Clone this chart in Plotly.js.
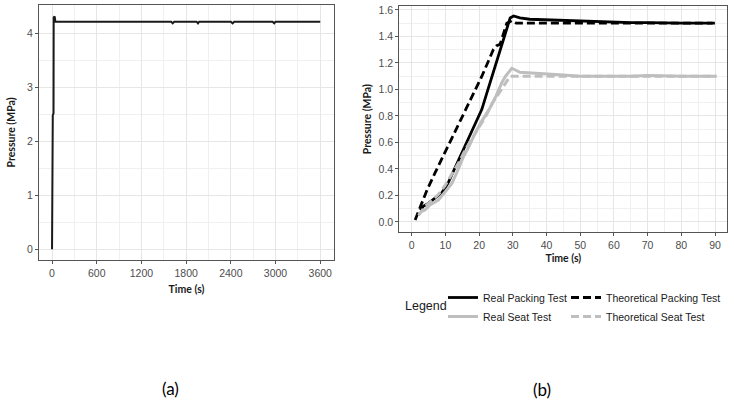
<!DOCTYPE html>
<html><head><meta charset="utf-8">
<script src="https://cdn.plot.ly/plotly-3.0.1.min.js"></script>
<style>html,body{margin:0;padding:0;background:#fff}#chart{width:734px;height:404px}</style>
</head><body><div id="chart"></div>
<script>
// Panel (a): long-duration pressure test
const longTime = [0, 1, 9, 10, 20, 22, 35, 45, 400, 800, 1200, 1600, 1619, 1640, 1940, 1959, 1975, 2400, 2424, 2445, 2960, 2983, 3000, 3300, 3600];
const longPressure = [0, 0.75, 0.78, 2.48, 2.52, 4.30, 4.32, 4.22, 4.22, 4.22, 4.22, 4.22, 4.19, 4.22, 4.22, 4.19, 4.22, 4.22, 4.19, 4.22, 4.22, 4.19, 4.22, 4.22, 4.22];

// Panel (b): 90 s tests
const realPackT = [2.5, 3.5, 4.9, 6.5, 8.9, 10, 10.9, 12.5, 14.3, 16, 17.8, 19.3, 20.8, 22, 23.2, 24.5, 25.7, 26.7, 27.7, 28.5, 29.2, 30.2, 32.1, 35, 40, 45, 50, 55, 60, 65, 70, 75, 80, 85, 89.3];
const realPackP = [0.09, 0.12, 0.14, 0.17, 0.22, 0.26, 0.30, 0.39, 0.49, 0.58, 0.69, 0.77, 0.85, 0.95, 1.05, 1.15, 1.25, 1.33, 1.42, 1.48, 1.54, 1.555, 1.54, 1.53, 1.525, 1.52, 1.515, 1.51, 1.51, 1.505, 1.505, 1.50, 1.50, 1.50, 1.50];

const theoPackT = [1, 2, 3, 4.5, 6.9, 9, 10.9, 13, 15.8, 18, 20.8, 22.5, 24.2, 25.2, 26.2, 27.2, 28.2, 29.7, 31, 35, 40, 50, 60, 70, 80, 90];
const theoPackP = [0.015, 0.08, 0.14, 0.24, 0.37, 0.48, 0.57, 0.69, 0.83, 0.95, 1.10, 1.20, 1.30, 1.33, 1.34, 1.42, 1.50, 1.52, 1.50, 1.50, 1.50, 1.50, 1.50, 1.505, 1.50, 1.50];

const realSeatT = [3, 3.9, 5.5, 7.9, 10, 11.9, 13.5, 15.3, 17, 18.8, 20.5, 22.7, 23.2, 25, 26.7, 27.8, 28.7, 29.7, 32.1, 36, 40, 45, 50, 55, 60, 65, 70, 75, 80, 85, 90.3];
const realSeatP = [0.08, 0.09, 0.13, 0.166, 0.23, 0.29, 0.38, 0.49, 0.57, 0.67, 0.75, 0.845, 0.86, 0.95, 1.05, 1.10, 1.13, 1.16, 1.13, 1.125, 1.12, 1.11, 1.10, 1.10, 1.095, 1.10, 1.105, 1.10, 1.10, 1.10, 1.10];

const theoSeatT = [2, 4, 6, 8, 10, 12, 14, 16, 18, 20, 22, 24, 26, 28, 29.2, 31, 35, 40, 50, 60, 70, 80, 90.5];
const theoSeatP = [0.05, 0.12, 0.16, 0.21, 0.28, 0.36, 0.45, 0.55, 0.63, 0.71, 0.80, 0.90, 0.98, 1.06, 1.10, 1.10, 1.10, 1.10, 1.10, 1.10, 1.10, 1.10, 1.10];

const xTicksA = [0, 600, 1200, 1800, 2400, 3000, 3600];
const yTicksA = [0, 1, 2, 3, 4];
const xTicksB = [0, 10, 20, 30, 40, 50, 60, 70, 80, 90];
const yTicksB = [0.0, 0.2, 0.4, 0.6, 0.8, 1.0, 1.2, 1.4, 1.6];

const W = 734, H = 404;
const px = v => v / W, py = v => (H - v) / H;

const tickFont = {family: 'Liberation Sans, Arial, sans-serif', size: 10.5, color: '#4d4d4d'};
const titleFont = {family: 'Lato, sans-serif', size: 10.5, color: '#1a1a1a', weight: 'bold'};
const legendFont = {family: 'Liberation Sans, Arial, sans-serif', size: 10.5, color: '#1a1a1a'};
const gridMajor = '#e6e6e6', gridMinor = '#f0f0f0';

function axis(extra) {
  return Object.assign({
    showline: true, mirror: true, linecolor: '#555', linewidth: 1,
    ticks: 'outside', ticklen: 3, tickcolor: '#555', tickwidth: 1,
    showgrid: true, gridcolor: gridMajor, gridwidth: 1, zeroline: false,
    tickfont: tickFont, automargin: false, tickmode: 'array'
  }, extra);
}

const traces = [
  {x: longTime, y: longPressure, xaxis: 'x', yaxis: 'y', mode: 'lines', showlegend: false,
   line: {color: '#1a1a1a', width: 2}, name: 'Pressure'},
  {x: realPackT, y: realPackP, xaxis: 'x2', yaxis: 'y2', mode: 'lines', name: 'Real Packing Test',
   line: {color: '#000000', width: 2.8}, legend: 'legend'},
  {x: theoPackT, y: theoPackP, xaxis: 'x2', yaxis: 'y2', mode: 'lines', name: 'Theoretical Packing Test',
   line: {color: '#000000', width: 2.8, dash: '8px,4px'}, legend: 'legend2'},
  {x: realSeatT, y: realSeatP, xaxis: 'x2', yaxis: 'y2', mode: 'lines', name: 'Real Seat Test',
   line: {color: '#bebebe', width: 3}, legend: 'legend'},
  {x: theoSeatT, y: theoSeatP, xaxis: 'x2', yaxis: 'y2', mode: 'lines', name: 'Theoretical Seat Test',
   line: {color: '#bebebe', width: 3, dash: '8px,4px'}, legend: 'legend2'}
];

const legendBase = {
  orientation: 'v', xanchor: 'left', y: py(283), yanchor: 'top',
  traceorder: 'normal', itemwidth: 30, tracegroupgap: 0,
  font: legendFont, bgcolor: 'rgba(0,0,0,0)'
};

const layout = {
  width: W, height: H, margin: {l: 0, r: 0, t: 0, b: 0},
  paper_bgcolor: '#ffffff', plot_bgcolor: '#ffffff',
  showlegend: true,
  xaxis: axis({domain: [px(39), px(334)], range: [-175, 3785], anchor: 'y',
    tickvals: xTicksA, ticktext: xTicksA.map(String),
    minor: {tickvals: [300, 900, 1500, 2100, 2700, 3300], showgrid: true, gridcolor: gridMinor, gridwidth: 1, ticks: ''},
    title: {text: 'Time (s)', font: titleFont, standoff: 8}}),
  yaxis: axis({domain: [py(260), py(5)], range: [-0.2, 4.53], anchor: 'x',
    tickvals: yTicksA, ticktext: yTicksA.map(String),
    minor: {tickvals: [0.5, 1.5, 2.5, 3.5], showgrid: true, gridcolor: gridMinor, gridwidth: 1, ticks: ''},
    title: {text: 'Pressure (MPa)', font: titleFont, standoff: 9}}),
  xaxis2: axis({domain: [px(399.3), px(727.3)], range: [-3.7, 93.65], anchor: 'y2',
    tickvals: xTicksB, ticktext: xTicksB.map(String),
    minor: {tickvals: [5, 15, 25, 35, 45, 55, 65, 75, 85], showgrid: true, gridcolor: gridMinor, gridwidth: 1, ticks: ''},
    title: {text: 'Time (s)', font: titleFont, standoff: 4}}),
  yaxis2: axis({domain: [py(232.3), py(6)], range: [-0.078, 1.63], anchor: 'x2',
    tickvals: yTicksB, ticktext: yTicksB.map(v => v.toFixed(1)),
    minor: {tickvals: [0.1, 0.3, 0.5, 0.7, 0.9, 1.1, 1.3, 1.5], showgrid: true, gridcolor: gridMinor, gridwidth: 1, ticks: ''},
    title: {text: 'Pressure (MPa)', font: titleFont, standoff: 4}}),
  legend: Object.assign({x: px(443)}, legendBase),
  legend2: Object.assign({x: px(566)}, legendBase),
  annotations: [
    {text: 'Legend', x: px(426), y: py(306), xref: 'paper', yref: 'paper', showarrow: false,
     xanchor: 'center', yanchor: 'middle',
     font: {family: 'Liberation Sans, Arial, sans-serif', size: 12.5, color: '#1a1a1a'}},
    {text: '(a)', x: px(170), y: py(388), xref: 'paper', yref: 'paper', showarrow: false,
     xanchor: 'center', yanchor: 'middle',
     font: {family: 'Lato, sans-serif', size: 17, color: '#000'}},
    {text: '(b)', x: px(542), y: py(389), xref: 'paper', yref: 'paper', showarrow: false,
     xanchor: 'center', yanchor: 'middle',
     font: {family: 'Lato, sans-serif', size: 17, color: '#000'}}
  ]
};

Plotly.newPlot('chart', traces, layout, {displayModeBar: false, staticPlot: true});
</script></body></html>
